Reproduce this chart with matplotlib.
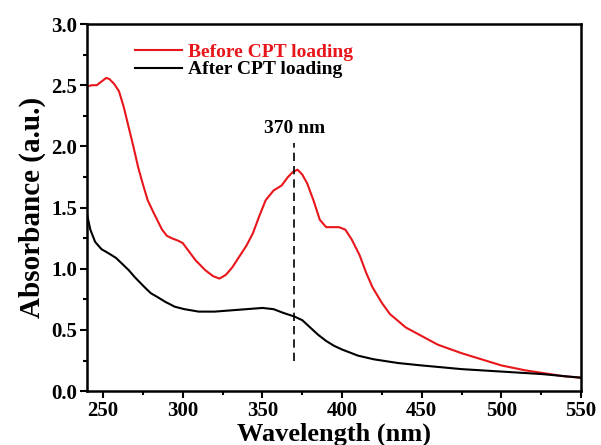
import matplotlib
matplotlib.use("Agg")
import matplotlib.pyplot as plt
from matplotlib.ticker import MultipleLocator, FormatStrFormatter

# ---------------- DATA ----------------
wl_before = [240, 243, 246, 249, 252, 254, 257, 260, 263, 266, 269, 272, 275,
             278, 282, 287, 290, 293, 297, 300, 304, 308, 314, 319, 323, 327,
             331, 335, 340, 344, 348, 352, 357, 362, 366, 369, 372, 375, 378,
             382, 386, 390, 394, 398, 402, 406, 411, 415, 419, 425, 430, 440,
             450, 460, 475, 490, 500, 515, 530, 540, 550]
abs_before = [2.49, 2.50, 2.50, 2.53, 2.56, 2.55, 2.51, 2.45, 2.32, 2.16, 2.00,
              1.83, 1.69, 1.56, 1.45, 1.32, 1.27, 1.25, 1.23, 1.21, 1.14, 1.07,
              0.99, 0.94, 0.92, 0.95, 1.01, 1.09, 1.19, 1.29, 1.43, 1.56, 1.64,
              1.68, 1.75, 1.79, 1.81, 1.77, 1.70, 1.56, 1.40, 1.34, 1.34, 1.34,
              1.32, 1.24, 1.11, 0.97, 0.85, 0.72, 0.63, 0.52, 0.45, 0.38, 0.31,
              0.25, 0.21, 0.17, 0.14, 0.12, 0.11]

wl_after = [240, 242, 245, 249, 253, 258, 262, 266, 270, 273, 276, 280, 284,
            289, 295, 301, 310, 320, 330, 340, 350, 357, 363, 370, 375, 380,
            385, 390, 395, 400, 410, 420, 435, 450, 475, 500, 525, 550]
abs_after = [1.44, 1.32, 1.22, 1.16, 1.13, 1.09, 1.04, 0.99, 0.93, 0.89, 0.85,
             0.80, 0.77, 0.73, 0.69, 0.67, 0.65, 0.65, 0.66, 0.67, 0.68, 0.67,
             0.64, 0.61, 0.58, 0.52, 0.46, 0.41, 0.37, 0.34, 0.29, 0.26, 0.23,
             0.21, 0.18, 0.16, 0.14, 0.11]

peak_wl = 370
peak_label = "370 nm"

# ---------------- PLOT ----------------
plt.rcParams["font.family"] = ["Liberation Serif", "DejaVu Serif"]
plt.rcParams["font.weight"] = "bold"

red = "#e8161b"

fig = plt.figure(figsize=(6.01, 4.45), dpi=100)
ax = fig.add_axes([0.145, 0.121, 0.822, 0.825])

ax.plot(wl_before, abs_before, color=red, lw=1.5, label="Before CPT loading")
ax.plot(wl_after, abs_after, color="black", lw=1.5, label="After CPT loading")

ax.plot([peak_wl, peak_wl], [0.25, 2.03], color="black", lw=1.2,
        linestyle=(0, (5, 3)))
ax.text(peak_wl, 2.08, peak_label, ha="center", va="bottom",
        fontsize=14, fontweight="bold")

ax.set_xlim(240, 550)
ax.set_ylim(0, 3.0)
ax.xaxis.set_major_locator(MultipleLocator(50))
ax.xaxis.set_minor_locator(MultipleLocator(25))
ax.yaxis.set_major_locator(MultipleLocator(0.5))
ax.yaxis.set_minor_locator(MultipleLocator(0.25))
ax.yaxis.set_major_formatter(FormatStrFormatter("%.1f"))

ax.tick_params(which="both", direction="out", width=1.5, labelsize=15,
               top=False, right=False)
ax.tick_params(which="major", length=5, pad=2)
ax.tick_params(which="minor", length=3)
for lbl in ax.get_xticklabels() + ax.get_yticklabels():
    lbl.set_fontweight("bold")
for sp in ax.spines.values():
    sp.set_linewidth(1.8)

ax.set_xlabel("Wavelength (nm)", fontsize=19, fontweight="bold", labelpad=1)
ax.set_ylabel("Absorbance (a.u.)", fontsize=21, fontweight="bold", labelpad=4)

leg = ax.legend(loc="upper left", bbox_to_anchor=(0.07, 0.985), frameon=False,
                fontsize=14, handlelength=2.4, handletextpad=0.3,
                labelspacing=0.0, borderaxespad=0.3)
leg.get_texts()[0].set_color(red)
for t in leg.get_texts():
    t.set_fontweight("bold")

fig.savefig("out.png", dpi=100)
